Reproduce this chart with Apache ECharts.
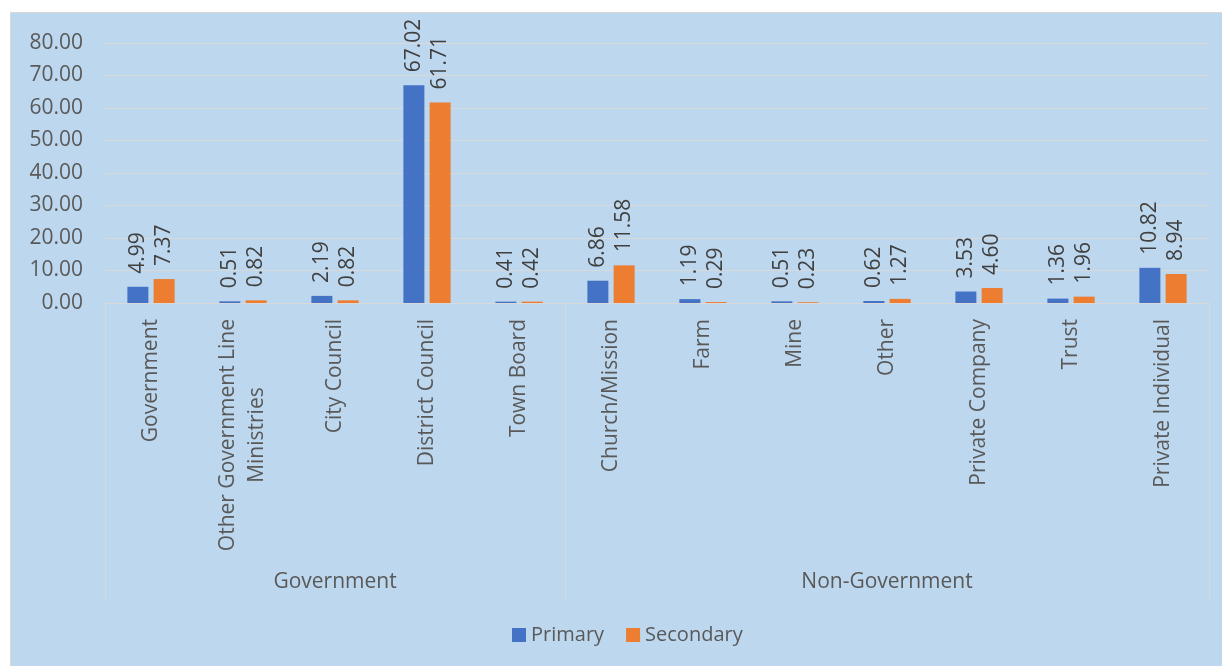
<!DOCTYPE html>
<html>
<head>
<meta charset="utf-8">
<script src="https://cdn.jsdelivr.net/npm/echarts@6/dist/echarts.min.js"></script>
<style>
    html, body { margin: 0; padding: 0; background: #fff; overflow: hidden; }
    #frame {
        position: absolute; left: 10px; top: 12px;
        width: 1212px; height: 654px;
        background: #BDD7EE;
        border-left: 1px solid #d9d9d9; border-top: 1px solid #d9d9d9;
    }
    #myChart { width: 1212px; height: 654px; }
</style>
</head>
<body>
<div id="frame"><div id="myChart"></div></div>
<script>
// categories (first level) and their groups (second level)
var categories = ['Government', 'Other Government Line\nMinistries', 'City Council', 'District Council', 'Town Board',
    'Church/Mission', 'Farm', 'Mine', 'Other', 'Private Company', 'Trust', 'Private Individual'];
var groupNames = ['Government', 'Non-Government'];
var groupSizes = [5, 7];

var primary = [4.99, 0.51, 2.19, 67.02, 0.41, 6.86, 1.19, 0.51, 0.62, 3.53, 1.36, 10.82];
var secondary = [7.37, 0.82, 0.82, 61.71, 0.42, 11.58, 0.29, 0.23, 1.27, 4.60, 1.96, 8.94];

var yTicks = [0, 10, 20, 30, 40, 50, 60, 70, 80];

// group boundaries and centres on a 0..n value scale
var bounds = [0];
var centres = [];
groupSizes.forEach(function (s) {
    var start = bounds[bounds.length - 1];
    centres.push(start + s / 2);
    bounds.push(start + s);
});

var FONT = '"Open Sans", sans-serif';
var TXT = '#595959';

var myChart = echarts.init(document.getElementById('myChart'));

var labelCfg = {
    show: true,
    position: 'top',
    rotate: 90,
    align: 'left',
    verticalAlign: 'middle',
    distance: 13,
    fontFamily: FONT,
    fontSize: 21,
    color: '#404040',
    formatter: function (p) { return p.value.toFixed(2); }
};

myChart.setOption({
    animation: false,
    grid: { left: 94, top: 30, width: 1104, height: 260 },
    legend: {
        data: ['Primary', 'Secondary'],
        left: 496,
        top: 607,
        itemWidth: 14,
        itemHeight: 14,
        itemGap: 22,
        icon: 'rect',
        textStyle: { fontFamily: FONT, fontSize: 20, color: TXT }
    },
    xAxis: [
        {
            type: 'category',
            data: categories,
            axisLine: { lineStyle: { color: '#d9d9d9', width: 1 } },
            axisTick: { show: false },
            axisLabel: {
                interval: 0,
                rotate: 90,
                margin: 16,
                fontFamily: FONT,
                fontSize: 21,
                color: TXT,
                lineHeight: 29,
                formatter: function (v) {
                    return v.split('\n').map(function (l) { return '{c|' + l + '}'; }).join('\n');
                },
                rich: {
                    c: { align: 'center', fontFamily: FONT, fontSize: 21, color: TXT, lineHeight: 29 }
                }
            }
        },
        {
            type: 'value',
            position: 'bottom',
            offset: 296,
            min: 0,
            max: categories.length,
            axisLine: { show: false },
            splitLine: { show: false },
            axisTick: {
                show: true,
                inside: true,
                length: 296,
                customValues: bounds,
                lineStyle: { color: '#d9d9d9', width: 1 }
            },
            axisLabel: {
                inside: true,
                margin: 6,
                customValues: centres,
                fontFamily: FONT,
                fontSize: 21,
                color: TXT,
                formatter: function (v) {
                    var i = centres.indexOf(v);
                    return i >= 0 ? groupNames[i] : '';
                }
            }
        }
    ],
    yAxis: {
        type: 'value',
        min: yTicks[0],
        max: yTicks[yTicks.length - 1],
        interval: 10,
        axisLine: { show: false },
        axisTick: { show: false },
        splitLine: { lineStyle: { color: '#d9d9d9', width: 1 } },
        axisLabel: {
            margin: 22,
            fontFamily: FONT,
            fontSize: 21,
            color: TXT,
            formatter: function (v) { return v.toFixed(2); }
        }
    },
    series: [
        {
            name: 'Primary',
            type: 'bar',
            xAxisIndex: 0,
            data: primary,
            barWidth: 21,
            barGap: '25%',
            itemStyle: { color: '#4472C4' },
            label: labelCfg
        },
        {
            name: 'Secondary',
            type: 'bar',
            xAxisIndex: 0,
            data: secondary,
            barWidth: 21,
            itemStyle: { color: '#ED7D31' },
            label: labelCfg
        }
    ]
});

window.onresize = function () {
    myChart.resize();
};
</script>
</body>
</html>
